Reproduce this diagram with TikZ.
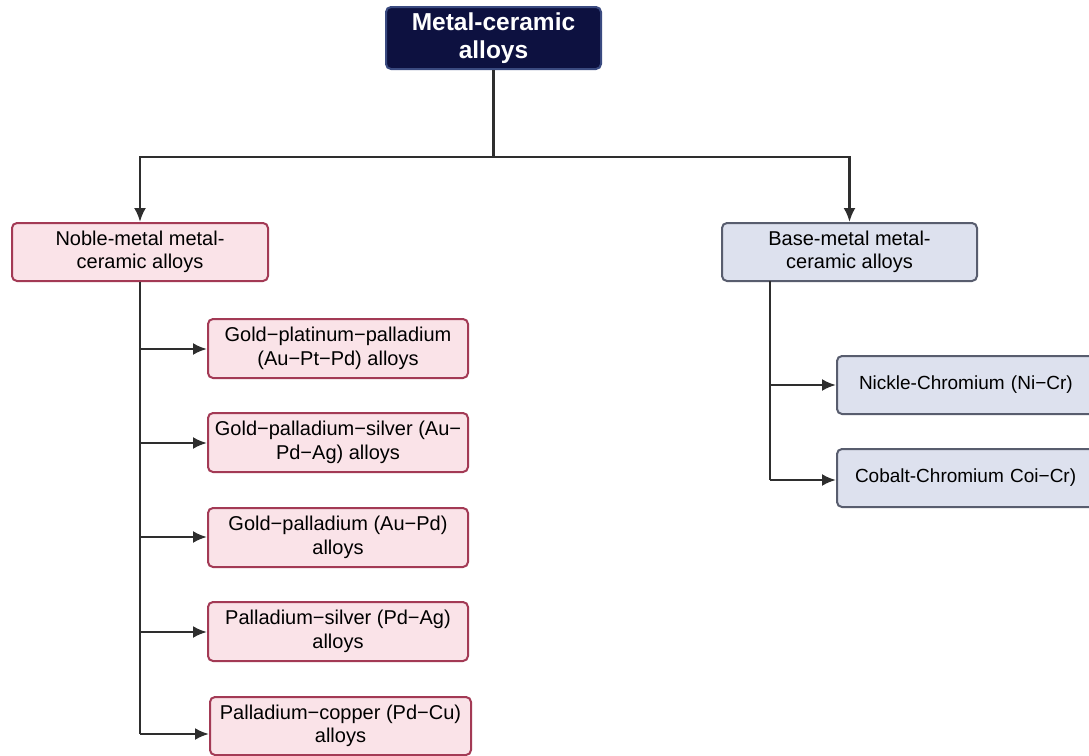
\documentclass[tikz,border=0pt]{standalone}
\usepackage{fontspec}
\setmainfont{Liberation Sans}
\usetikzlibrary{arrows.meta}
\definecolor{navy}{HTML}{0D1140}
\definecolor{navyborder}{HTML}{3A4A80}
\definecolor{pinkfill}{HTML}{FAE3E8}
\definecolor{pinkdraw}{HTML}{A33A55}
\definecolor{bluefill}{HTML}{DDE1EE}
\definecolor{bluedraw}{HTML}{585D6E}
\definecolor{linec}{HTML}{2E2E2E}
\tikzset{
  x=1pt,y=-1pt,
  topbox/.style={draw=navyborder,fill=navy,line width=2pt,rounded corners=5pt,text=white,font=\bfseries\fontsize{24.5}{28}\selectfont,align=center,inner sep=0pt},
  pinkbox/.style={draw=pinkdraw,fill=pinkfill,line width=2pt,rounded corners=5pt,font=\fontsize{20}{23.5}\selectfont,align=center,inner sep=0pt},
  bluebox/.style={draw=bluedraw,fill=bluefill,line width=2pt,rounded corners=5pt,font=\fontsize{20}{23.5}\selectfont,align=center,inner sep=0pt},
  conn/.style={draw=linec,line width=2.5pt},
  arr/.style={conn,-{Latex[length=14pt,width=12pt]}}
}
\begin{document}
\begin{tikzpicture}
\useasboundingbox (0,0) rectangle (1089,755);
\clip (0,0) rectangle (1089,755);
\fill[white] (0,0) rectangle (1089,755);
% nodes
\node[topbox,minimum width=215pt,minimum height=62pt] (top) at (493.5,38) {Metal-ceramic\\alloys};
\node[pinkbox,minimum width=256pt,minimum height=58pt] (noble) at (140,252) {Noble-metal metal-\\ceramic alloys};
\node[bluebox,minimum width=255pt,minimum height=58pt] (base) at (849.5,252) {Base-metal metal-\\ceramic alloys};
\node[pinkbox,minimum width=260pt,minimum height=59pt] (gpp) at (338,348.5) {Gold−platinum−palladium\\(Au−Pt−Pd) alloys};
\node[pinkbox,minimum width=260pt,minimum height=59pt] (gps) at (338,442.5) {Gold−palladium−silver (Au−\\Pd−Ag) alloys};
\node[pinkbox,minimum width=260pt,minimum height=59pt] (gp) at (338,537.5) {Gold−palladium (Au−Pd)\\alloys};
\node[pinkbox,minimum width=260pt,minimum height=59pt] (ps) at (338,631.5) {Palladium−silver (Pd−Ag)\\alloys};
\node[pinkbox,minimum width=261pt,minimum height=58pt] (pc) at (340.5,726) {Palladium−copper (Pd−Cu)\\alloys};
\node[bluebox,minimum width=290pt,minimum height=58pt,text width=250pt,align=left,font=\fontsize{19}{23}\selectfont] (ni) at (982,385) {\hspace{2pt}Nickle-Chromium (Ni−Cr)};
\node[bluebox,minimum width=290pt,minimum height=58pt,text width=250pt,align=left,font=\fontsize{19}{23}\selectfont] (co) at (982,478) {\hspace{-2pt}Cobalt-Chromium Coi−Cr)};
% coordinates
\coordinate (j) at (493.5,157);
\coordinate (jl) at (140,157);
\coordinate (jr) at (849.5,157);
\coordinate (nt) at (140,734);
\coordinate (bt) at (770,480);
% connectors
\draw[conn] (top.south) -- (j);
\draw[arr] (j) -- (jl) -- (noble.north);
\draw[arr] (j) -- (jr) -- (base.north);
\draw[conn] (noble.south) -- (nt);
\draw[arr] (140,349) -- (gpp.west |- 0,349);
\draw[arr] (140,443) -- (gps.west |- 0,443);
\draw[arr] (140,537) -- (gp.west |- 0,537);
\draw[arr] (140,632) -- (ps.west |- 0,632);
\draw[arr] (nt) -- (pc.west |- nt);
\draw[conn] (770,281) -- (bt);
\draw[arr] (770,385) -- (ni.west);
\draw[arr] (bt) -- (co.west |- bt);
\end{tikzpicture}
\end{document}
